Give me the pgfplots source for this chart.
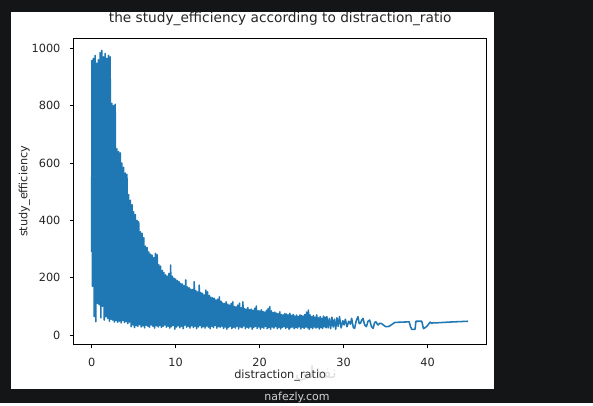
\documentclass[border=0pt]{standalone}
\usepackage{fontspec}
\setmainfont{DejaVu Sans}
\newfontfamily\arabicfont[Script=Arabic]{DejaVu Sans}
\TeXXeTstate=1
\usepackage{pgfplots}
\pgfplotsset{compat=1.18}
\definecolor{mplblue}{HTML}{1F77B4}
\definecolor{bgdark}{HTML}{141517}
\begin{document}
\begin{tikzpicture}[x=1pt,y=1pt]
\fill[bgdark] (0,0) rectangle (593,403);
\fill[white] (11,14.3) rectangle (494,391);
\begin{axis}[
  at={(73.7pt,58.3pt)}, anchor=south west,
  width=413pt, height=306.7pt, scale only axis,
  xmin=-2.14, xmax=47.03, ymin=-33.8, ymax=1036,
  xtick={0,10,20,30,40}, ytick={0,200,400,600,800,1000},
  tick pos=left, tick align=outside,
  major tick length=3.7pt,
  tick style={black, line width=0.85pt},
  axis line style={line width=0.85pt},
  /pgf/number format/assume math mode=true,
  /pgf/number format/1000 sep={},
  ticklabel style={font=\fontsize{11.3}{13}\selectfont, text=black!85},
  xticklabel style={anchor=north, inner sep=0pt, yshift=-9.6pt},
  yticklabel style={anchor=east, inner sep=0pt, xshift=-9.4pt},
  title={the study\_efficiency according to distraction\_ratio},
  title style={at={(axis description cs:0.5,1)}, anchor=south, inner sep=0pt, yshift=5.7pt, font=\fontsize{13.7}{15}\selectfont, text=black!85},
  xlabel={distraction\_ratio},
  xlabel style={at={(axis description cs:0.5,0)}, anchor=north, inner sep=0pt, yshift=-24.6pt, font=\fontsize{11.3}{13}\selectfont, text=black!85},
  ylabel={study\_efficiency},
  ylabel style={at={(axis description cs:-0.1051,0.5)}, anchor=south, inner sep=0pt, font=\fontsize{11.3}{13}\selectfont, text=black!85},
]
\addplot[mplblue, line width=1.55pt, line join=round] coordinates {
(0.00,290)(0.03,958)(0.10,170)(0.20,965)(0.30,64)(0.40,975)(0.50,46)(0.60,948)(0.70,110)(0.80,960)(0.90,105)(1.00,985)(1.10,60)(1.20,993)(1.30,100)(1.40,970)(1.50,52)(1.60,982)(1.70,64)(1.80,965)(1.90,58)(2.00,975)(2.10,48)(2.20,970)(2.30,55)(2.40,808)(2.50,52)(2.60,800)(2.70,45)(2.80,805)(2.90,50)(3.00,650)(3.10,44)(3.20,640)(3.30,48)(3.40,635)(3.50,42)(3.60,600)(3.70,50)(3.80,585)(3.90,44)(4.00,565)(4.10,46)(4.20,560)(4.30,40)(4.40,490)(4.50,45)(4.60,470)(4.70,29)(4.80,455)(4.90,35)(5.00,430)(5.10,26)(5.20,420)(5.30,33)(5.40,400)(5.50,30)(5.60,395)(5.70,36)(5.80,360)(5.90,28)(6.00,355)(6.10,32)(6.20,340)(6.30,25)(6.40,310)(6.50,34)(6.60,305)(6.70,30)(6.80,290)(6.90,27)(7.00,282)(7.10,35)(7.20,278)(7.30,30)(7.40,270)(7.50,24)(7.60,285)(7.70,32)(7.80,280)(7.90,28)(8.00,245)(8.10,33)(8.20,240)(8.30,26)(8.40,225)(8.50,30)(8.60,218)(8.70,35)(8.80,210)(8.90,27)(9.00,205)(9.10,31)(9.20,215)(9.30,24)(9.40,244)(9.50,29)(9.60,205)(9.70,33)(9.80,198)(9.90,20)
(10.00,195)(10.10,28)(10.20,190)(10.30,32)(10.40,186)(10.50,25)(10.60,180)(10.70,30)(10.80,178)(10.90,22)(11.00,172)(11.10,34)(11.20,192)(11.30,27)(11.40,168)(11.50,30)(11.60,165)(11.70,24)(11.80,160)(11.90,32)(12.00,158)(12.10,26)(12.20,186)(12.30,30)(12.40,155)(12.50,22)(12.60,150)(12.70,28)(12.80,174)(12.90,33)(13.00,148)(13.10,25)(13.20,145)(13.30,29)(13.40,140)(13.50,24)(13.60,157)(13.70,31)(13.80,151)(13.90,27)(14.00,138)(14.10,22)(14.20,132)(14.30,30)(14.40,130)(14.50,26)(14.60,128)(14.70,33)(14.80,122)(14.90,24)(15.00,125)(15.10,29)(15.20,133)(15.30,27)(15.40,118)(15.50,31)(15.60,112)(15.70,23)(15.80,110)(15.90,28)(16.00,116)(16.10,20)(16.20,108)(16.30,26)(16.40,104)(16.50,30)(16.60,110)(16.70,22)(16.80,116)(16.90,27)(17.00,100)(17.10,24)(17.20,98)(17.30,30)(17.40,104)(17.50,21)(17.60,111)(17.70,28)(17.80,95)(17.90,25)(18.00,116)(18.10,31)(18.20,92)(18.30,22)(18.40,90)(18.50,27)(18.60,96)(18.70,24)(18.80,88)(18.90,29)(19.00,90)(19.10,20)(19.20,86)(19.30,26)(19.40,93)(19.50,30)(19.60,101)(19.70,23)(19.80,85)(19.90,28)
(20.00,84)(20.10,21)(20.20,88)(20.30,27)(20.40,82)(20.50,24)(20.60,80)(20.70,30)(20.80,86)(20.90,22)(21.00,92)(21.10,26)(21.20,99)(21.30,20)(21.40,84)(21.50,28)(21.60,78)(21.70,24)(21.80,80)(21.90,30)(22.00,76)(22.10,22)(22.20,74)(22.30,27)(22.40,81)(22.50,21)(22.60,72)(22.70,26)(22.80,70)(22.90,29)(23.00,75)(23.10,23)(23.20,73)(23.30,27)(23.40,70)(23.50,20)(23.60,76)(23.70,25)(23.80,68)(23.90,28)(24.00,72)(24.10,22)(24.20,66)(24.30,26)(24.40,70)(24.50,24)(24.60,65)(24.70,29)(24.80,70)(24.90,21)(25.00,68)(25.10,27)(25.20,66)(25.30,23)(25.40,72)(25.50,28)(25.60,80)(25.70,25)(25.80,87)(25.90,20)(26.00,70)(26.10,26)(26.20,64)(26.30,22)(26.40,68)(26.50,28)(26.60,62)(26.70,24)(26.80,70)(26.90,27)(27.00,60)(27.10,21)(27.20,64)(27.30,26)(27.40,58)(27.50,23)(27.60,66)(27.70,29)(27.80,62)(27.90,25)(28.00,64)
(28.15,25)(28.30,58)(28.45,22)(28.60,62)(28.75,28)(28.90,55)(29.05,20)(29.20,60)(29.35,30)(29.50,64)(29.70,25)(29.90,50)(30.05,35)(30.20,55)(30.40,29)(30.60,48)(30.80,38)(30.95,58)(31.15,26)(31.30,23)(31.50,50)(31.70,64)(31.85,40)(32.00,41)(32.15,52)(32.30,58)(32.50,35)(32.70,29)(32.90,48)(33.10,52)(33.30,30)(33.50,23)(33.70,44)(33.85,46)(34.00,38)(34.10,35)(34.30,41)(34.50,40)(35.00,29)(35.40,30)(36.10,44)(37.00,45)(37.80,46)(37.95,30)(38.10,20)(38.50,20)(38.60,48)(39.30,48)(39.50,22)(39.90,30)(40.30,45)(40.50,40)(40.70,44)(40.80,42)(42.50,45)(44.80,48)
};
\end{axis}
\node[text=gray!60, opacity=0.4, font=\arabicfont\fontsize{17}{18}\selectfont] at (316,29) {\beginR نفذلي\endR};
\node[text=gray!35, font=\fontsize{11}{13}\selectfont] at (297,6) {nafezly.com};
\end{tikzpicture}
\end{document}
